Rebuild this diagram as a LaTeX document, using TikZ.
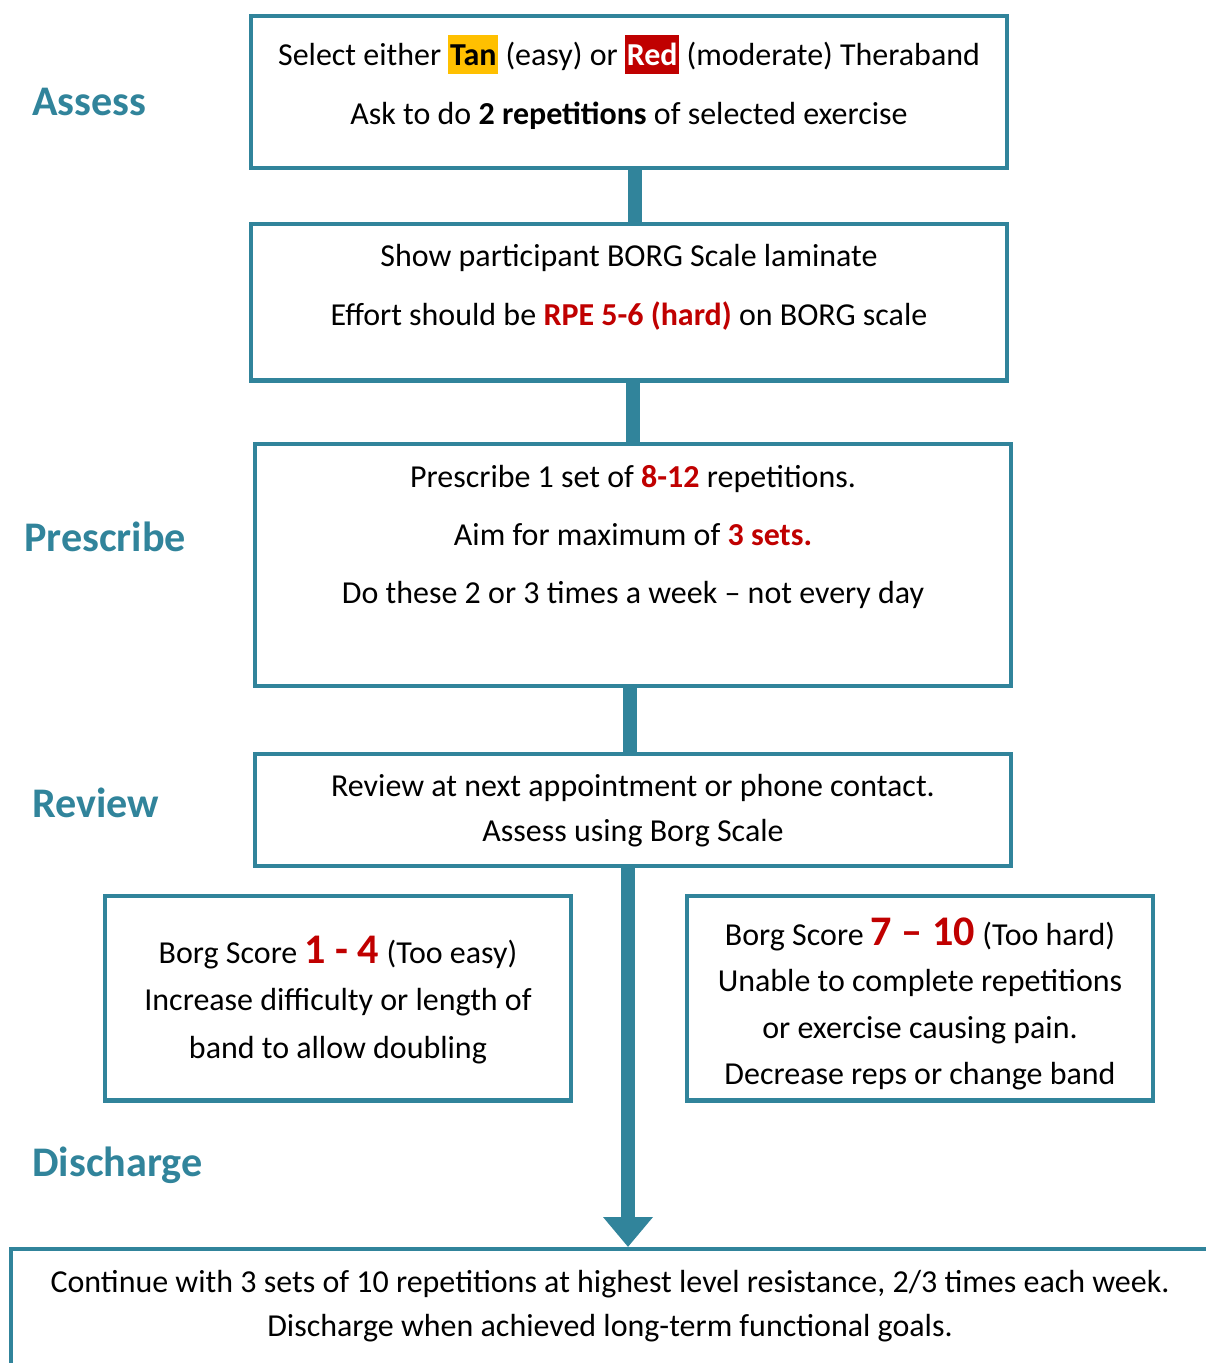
\documentclass[tikz,border=0pt]{standalone}
\usepackage{fontspec}
\setmainfont{Carlito}
\usepackage{xcolor}
\usetikzlibrary{arrows.meta, positioning, calc}

\definecolor{stepteal}{HTML}{31849B}
\definecolor{hardred}{HTML}{C00000}
\definecolor{tanshade}{HTML}{FFC000}

\newcommand{\redbf}[1]{\textcolor{hardred}{\textbf{#1}}}
\newcommand{\bigred}[1]{{\fontsize{24}{24}\selectfont\bfseries\color{hardred}#1}}
\newcommand{\bandbox}[3]{{\setlength{\fboxsep}{0pt}\colorbox{#1}{\kern1pt\rule[-5pt]{0pt}{22.5pt}\textcolor{#2}{\textbf{#3}}\kern1pt}}}

\begin{document}
\begin{tikzpicture}[x=0.02cm, y=-0.02cm,
    box/.style={draw=stepteal, line width=2.3pt, fill=white, inner sep=0pt},
    wide/.style={box, minimum width=15.12cm},
    txt/.style={align=center, inner sep=0pt, font=\fontsize{18.2}{#1}\selectfont},
    txt/.default=33.5,
    stage/.style={anchor=west, inner sep=0pt, text=stepteal, font=\fontsize{24}{28}\selectfont\bfseries},
    link/.style={draw=stepteal, line width=8pt}]
    \useasboundingbox (0,0) rectangle (1206,1363);

    \node [stage] (lblassess) at (32,102) {Assess};
    \node [stage] (lblprescribe) at (24,537) {Prescribe};
    \node [stage] (lblreview) at (32,803) {Review};
    \node [stage] (lbldischarge) at (32,1165) {Discharge};

    % frames
    \node [wide, minimum height=3.04cm] (select) at (629,92) {};
    \node [wide, minimum height=3.14cm] (borg) at (629,302) {};
    \node [wide, minimum height=4.84cm] (prescribe) at (633,565) {};
    \node [wide, minimum height=2.24cm] (review) at (633,810) {};
    \node [box, minimum width=9.32cm, minimum height=4.1cm] (easy) at (338,998) {};
    \node [box, minimum width=9.34cm, minimum height=4.1cm] (hard) at (920,998) {};
    \node [box, minimum width=24.08cm, minimum height=2.52cm] (discharge) at (613,1312) {};

    % texts
    \node [txt] (selecttext) at (629,82)
        {Select either \bandbox{tanshade}{black}{Tan} (easy) or \bandbox{hardred}{white}{Red} (moderate) Theraband\\
         Ask to do \textbf{2 repetitions} of selected exercise};
    \node [txt] (borgtext) at (629,287)
        {Show participant BORG Scale laminate\\
         Effort should be \redbf{RPE 5-6 (hard)} on BORG scale};
    \node [txt=33] (prescribetext) at (633,537)
        {Prescribe 1 set of \redbf{8-12} repetitions.\\
         Aim for maximum of \redbf{3 sets.}\\
         Do these 2 or 3 times a week -- not every day};
    \node [txt=25.5] (reviewtext) at (633,811)
        {Review at next appointment or phone contact.\\
         Assess using Borg Scale};
    \node [txt=27] (easytext) at (338,1000)
        {Borg Score \bigred{1 - 4} (Too easy)\\
         Increase difficulty or length of\\
         band to allow doubling};
    \node [txt=26.5] (hardtext) at (920,1004)
        {Borg Score \bigred{7 -- 10} (Too hard)\\
         Unable to complete repetitions\\
         or exercise causing pain.\\
         Decrease reps or change band};
    \node [txt=25] (dischargetext) at (610,1306)
        {Continue with 3 sets of 10 repetitions at highest level resistance, 2/3 times each week.\\
         Discharge when achieved long-term functional goals.};

    \foreach \a/\b/\dx in {select/borg/6, borg/prescribe/4, prescribe/review/-3}
        \draw [link] ($(\a.south)+(\dx,0)$) -- ($(\a.south |- \b.north)+(\dx,0)$);
    \draw [link, -{Triangle[width=0.96cm, length=0.6cm]}] ($(review.south)+(-5,0)$) -- ($(review.south |- discharge.north)+(-5,0)$);
\end{tikzpicture}
\end{document}
